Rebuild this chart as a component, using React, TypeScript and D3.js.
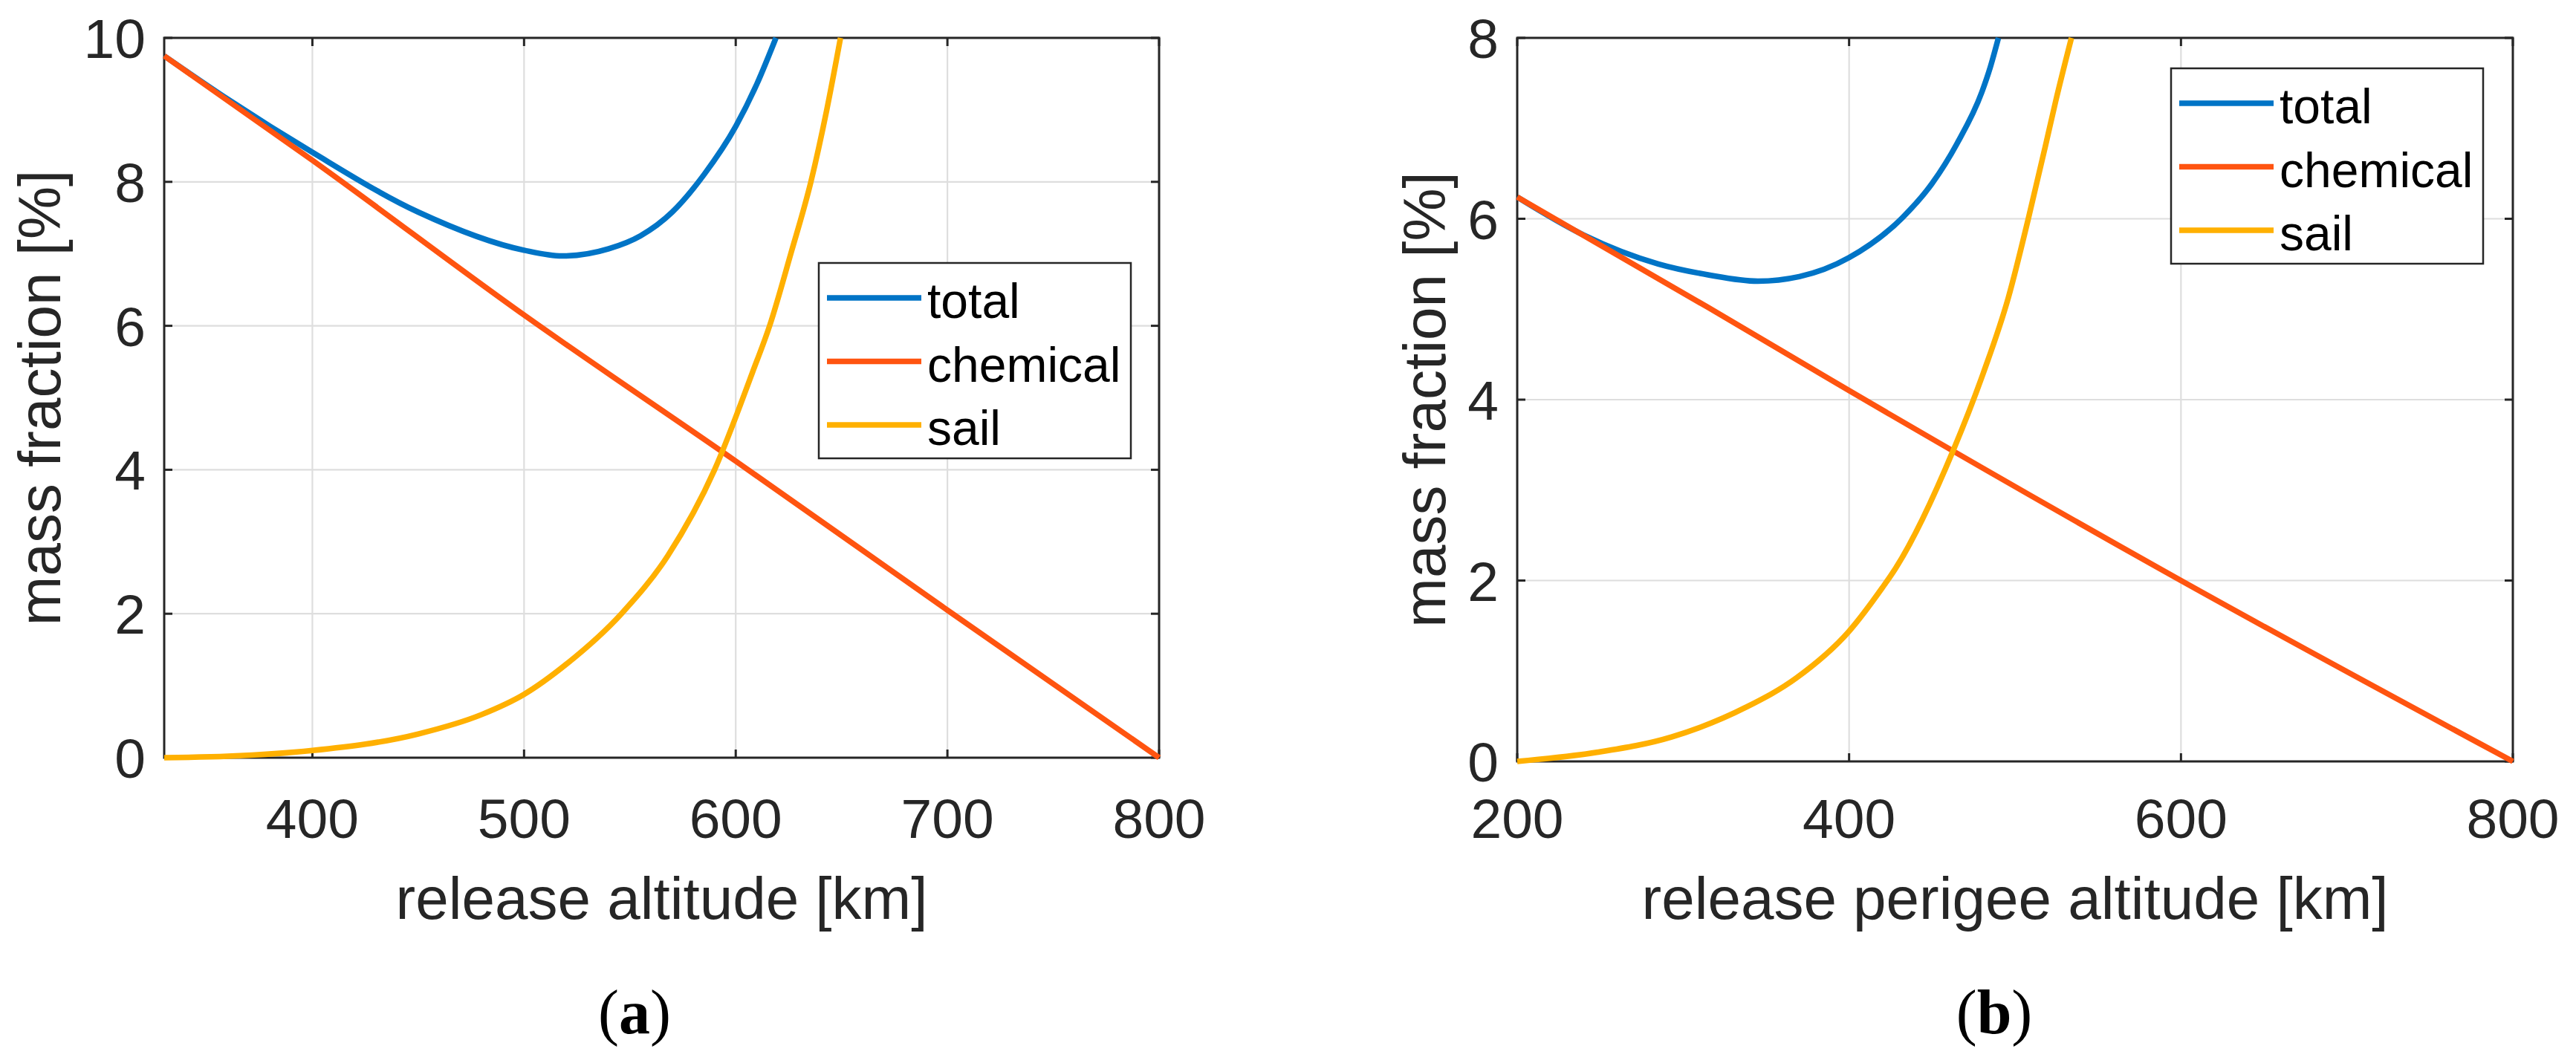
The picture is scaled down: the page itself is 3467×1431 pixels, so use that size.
import { useEffect, useRef } from "react";
import * as d3 from "d3";

// panel (a): release altitude
const chemAltA = [330, 400, 500, 600, 700, 800];
const chemValA = [9.75, 8.3, 6.15, 4.12, 2.05, 0];
const totalAltA = [330, 360, 400, 450, 500, 518, 540, 555, 570, 585, 600, 610, 619];
const totalValA = [9.75, 9.15, 8.41, 7.58, 7.05, 6.97, 7.07, 7.25, 7.58, 8.1, 8.77, 9.36, 10];
const sailAltA = [330, 360, 400, 450, 480, 500, 520, 546, 568, 590, 608, 616, 626, 635.5, 643, 649.5];
const sailValA = [0, 0.02, 0.1, 0.33, 0.6, 0.88, 1.3, 2.0, 2.81, 4.0, 5.36, 6.0, 7.0, 8.0, 9.0, 10];
const xTicksA = [400, 500, 600, 700, 800];
const yTicksA = [0, 2, 4, 6, 8, 10];

// panel (b): release perigee altitude
const chemAltB = [200, 315, 400, 600, 800];
const chemValB = [6.24, 5.02, 4.1, 2.0, 0];
const totalAltB = [200, 240, 285, 315, 345, 370, 400, 432, 450, 465, 480, 485, 490];
const totalValB = [6.24, 5.82, 5.5, 5.38, 5.31, 5.36, 5.57, 6.01, 6.39, 6.83, 7.4, 7.67, 8.0];
const sailAltB = [200, 248, 293, 338, 368, 400, 420, 427.5, 463, 481, 496, 508, 518, 524.5, 534];
const sailValB = [0, 0.1, 0.27, 0.6, 0.92, 1.44, 1.92, 2.12, 3.45, 4.3, 5.13, 6.0, 6.78, 7.3, 8.0];
const xTicksB = [200, 400, 600, 800];
const yTicksB = [0, 2, 4, 6, 8];

const seriesNames = ["total", "chemical", "sail"];
const seriesColors = ["#0074C6", "#FF5410", "#FFB000"];

const SANS = "'Liberation Sans', Arial, sans-serif";
const AXIS = "#262626";

type PanelProps = {
    x0: number;
    x1: number;
    y0: number;
    y1: number;
    xDomain: [number, number];
    yDomain: [number, number];
    xTicks: number[];
    yTicks: number[];
    series: { alt: number[]; val: number[] }[];
    xLabel: string;
    yLabelX: number;
    legend: { x: number; y: number };
    caption: string;
    captionX: number;
};

function Panel(p: PanelProps) {
    const ref = useRef<SVGGElement | null>(null);

    useEffect(() => {
        if (!ref.current) return;
        const g = d3.select(ref.current);
        g.selectAll("*").remove();

        const x = d3.scaleLinear().domain(p.xDomain).range([p.x0, p.x1]);
        const y = d3.scaleLinear().domain(p.yDomain).range([p.y1, p.y0]);
        const tick = 11;

        // grid
        g.append("g")
            .selectAll("line")
            .data(p.xTicks)
            .join("line")
            .attr("x1", (d) => x(d))
            .attr("x2", (d) => x(d))
            .attr("y1", p.y0)
            .attr("y2", p.y1)
            .attr("stroke", "#dedede")
            .attr("stroke-width", 2.2);
        g.append("g")
            .selectAll("line")
            .data(p.yTicks)
            .join("line")
            .attr("x1", p.x0)
            .attr("x2", p.x1)
            .attr("y1", (d) => y(d))
            .attr("y2", (d) => y(d))
            .attr("stroke", "#dedede")
            .attr("stroke-width", 2.2);

        // box + inward ticks on all sides
        g.append("rect")
            .attr("x", p.x0)
            .attr("y", p.y0)
            .attr("width", p.x1 - p.x0)
            .attr("height", p.y1 - p.y0)
            .attr("fill", "none")
            .attr("stroke", AXIS)
            .attr("stroke-width", 3);
        const ticks = g.append("g").attr("stroke", AXIS).attr("stroke-width", 3);
        p.xTicks.forEach((d) => {
            ticks.append("line").attr("x1", x(d)).attr("x2", x(d)).attr("y1", p.y1).attr("y2", p.y1 - tick);
            ticks.append("line").attr("x1", x(d)).attr("x2", x(d)).attr("y1", p.y0).attr("y2", p.y0 + tick);
        });
        p.yTicks.forEach((d) => {
            ticks.append("line").attr("x1", p.x0).attr("x2", p.x0 + tick).attr("y1", y(d)).attr("y2", y(d));
            ticks.append("line").attr("x1", p.x1).attr("x2", p.x1 - tick).attr("y1", y(d)).attr("y2", y(d));
        });

        // tick labels
        g.append("g")
            .selectAll("text")
            .data(p.xTicks)
            .join("text")
            .attr("x", (d) => x(d))
            .attr("y", 1128)
            .attr("text-anchor", "middle")
            .attr("font-family", SANS)
            .attr("font-size", 75)
            .attr("fill", AXIS)
            .text((d) => d);
        g.append("g")
            .selectAll("text")
            .data(p.yTicks)
            .join("text")
            .attr("x", p.x0 - 25)
            .attr("y", (d) => y(d) + 27)
            .attr("text-anchor", "end")
            .attr("font-family", SANS)
            .attr("font-size", 75)
            .attr("fill", AXIS)
            .text((d) => d);

        // axis labels
        g.append("text")
            .attr("x", (p.x0 + p.x1) / 2)
            .attr("y", 1237)
            .attr("text-anchor", "middle")
            .attr("font-family", SANS)
            .attr("font-size", 80)
            .attr("fill", AXIS)
            .text(p.xLabel);
        const cy = (p.y0 + p.y1) / 2;
        g.append("text")
            .attr("transform", `translate(${p.yLabelX},${cy}) rotate(-90)`)
            .attr("text-anchor", "middle")
            .attr("font-family", SANS)
            .attr("font-size", 80)
            .attr("fill", AXIS)
            .text("mass fraction [%]");

        // curves, drawn over the axes like MATLAB's default layer
        const line = d3
            .line<[number, number]>()
            .x((d) => x(d[0]))
            .y((d) => y(d[1]))
            .curve(d3.curveMonotoneX);
        p.series.forEach((s, i) => {
            const pts = s.alt.map((a, k) => [a, s.val[k]] as [number, number]);
            g.append("path")
                .attr("d", line(pts))
                .attr("fill", "none")
                .attr("stroke", seriesColors[i])
                .attr("stroke-width", 7.5)
                .attr("stroke-linejoin", "round");
        });

        // legend
        const lg = g.append("g").attr("transform", `translate(${p.legend.x},${p.legend.y})`);
        lg.append("rect")
            .attr("width", 420)
            .attr("height", 263)
            .attr("fill", "white")
            .attr("stroke", AXIS)
            .attr("stroke-width", 2.5);
        seriesNames.forEach((name, i) => {
            const ry = 47 + i * 85.5;
            lg.append("line")
                .attr("x1", 11)
                .attr("x2", 138)
                .attr("y1", ry)
                .attr("y2", ry)
                .attr("stroke", seriesColors[i])
                .attr("stroke-width", 7.5);
            lg.append("text")
                .attr("x", 146)
                .attr("y", ry + 27)
                .attr("font-family", SANS)
                .attr("font-size", 66)
                .attr("fill", "#000")
                .text(name);
        });

        // caption
        const cap = g
            .append("text")
            .attr("x", p.captionX)
            .attr("y", 1391)
            .attr("text-anchor", "middle")
            .attr("font-family", "'Liberation Serif', 'Times New Roman', serif")
            .attr("font-size", 84)
            .attr("fill", "#000");
        cap.append("tspan").text("(");
        cap.append("tspan").attr("font-weight", "bold").text(p.caption);
        cap.append("tspan").text(")");
    }, [p]);

    return <g ref={ref} />;
}

export default function App() {
    return (
        <div>
            <style>{`body{margin:0;background:#fff}`}</style>
            <svg width={3467} height={1431} style={{ display: "block", background: "#fff" }}>
                <Panel
                    x0={221}
                    x1={1560}
                    y0={51}
                    y1={1020}
                    xDomain={[330, 800]}
                    yDomain={[0, 10]}
                    xTicks={xTicksA}
                    yTicks={yTicksA}
                    series={[
                        { alt: totalAltA, val: totalValA },
                        { alt: chemAltA, val: chemValA },
                        { alt: sailAltA, val: sailValA },
                    ]}
                    xLabel="release altitude [km]"
                    yLabelX={81}
                    legend={{ x: 1102, y: 354 }}
                    caption="a"
                    captionX={854}
                />
                <Panel
                    x0={2042}
                    x1={3382}
                    y0={51}
                    y1={1025}
                    xDomain={[200, 800]}
                    yDomain={[0, 8]}
                    xTicks={xTicksB}
                    yTicks={yTicksB}
                    series={[
                        { alt: totalAltB, val: totalValB },
                        { alt: chemAltB, val: chemValB },
                        { alt: sailAltB, val: sailValB },
                    ]}
                    xLabel="release perigee altitude [km]"
                    yLabelX={1945}
                    legend={{ x: 2922, y: 92 }}
                    caption="b"
                    captionX={2684}
                />
            </svg>
        </div>
    );
}
